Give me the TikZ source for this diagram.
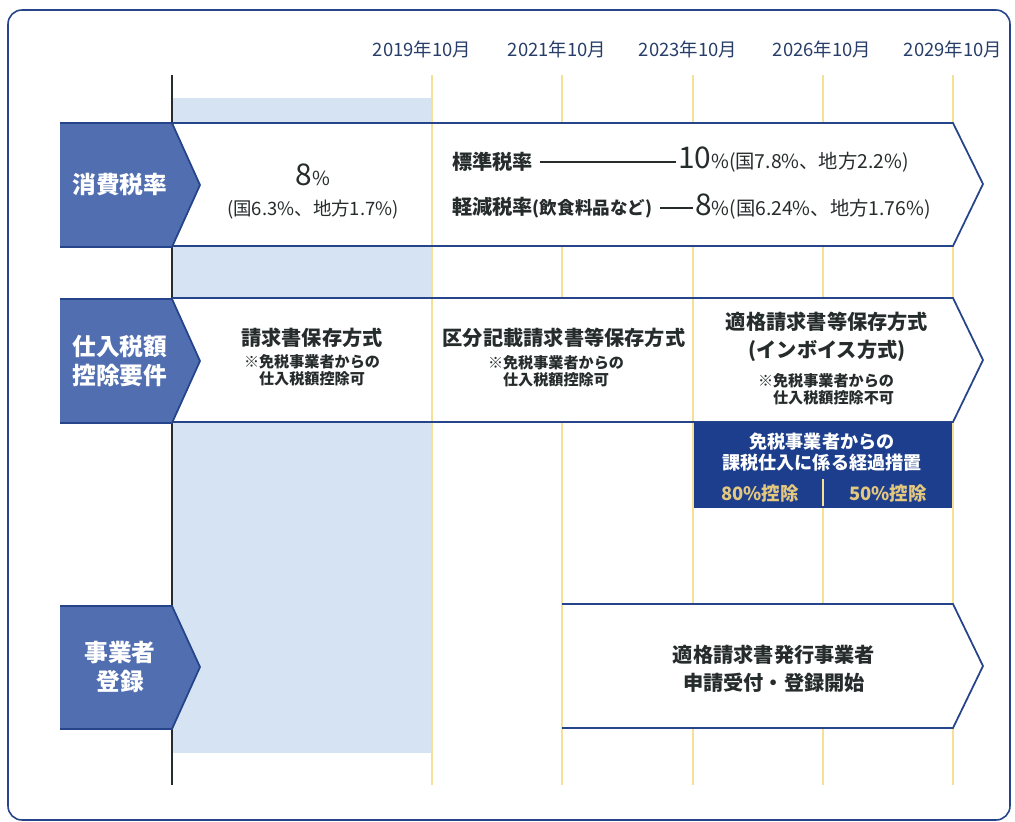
\documentclass[tikz,border=0pt]{standalone}
\usepackage{fontspec}
\setmainfont{Noto Sans CJK JP}
\usetikzlibrary{positioning}

\definecolor{tagblue}{RGB}{80,110,176}
\definecolor{edgeblue}{RGB}{38,68,138}
\definecolor{boxblue}{RGB}{28,62,140}
\definecolor{paleblue}{RGB}{214,227,242}
\definecolor{lineyellow}{RGB}{246,224,150}
\definecolor{goldtext}{RGB}{228,200,128}
\definecolor{ink}{RGB}{38,44,44}
\definecolor{dateblue}{RGB}{40,62,104}

\tikzset{
  tagfill/.style={fill=tagblue},
  tagedge/.style={draw=edgeblue, line width=1pt},
  bandedge/.style={draw=edgeblue, line width=1pt},
  yline/.style={draw=lineyellow, line width=1.1pt},
  datelbl/.style={text=dateblue, font=\fontsize{10.5}{12}\selectfont},
  taglbl/.style={text=white, font=\fontsize{13.5}{17}\selectfont\bfseries, align=center},
  title/.style={text=ink, font=\fontsize{11.5}{16}\selectfont\bfseries, align=center},
  note/.style={text=ink, font=\fontsize{8.6}{9.6}\selectfont\bfseries, align=center},
  rate/.style={text=ink, font=\fontsize{10.5}{12}\selectfont, inner sep=1pt},
  boxtxt/.style={text=white, font=\fontsize{10.3}{12}\selectfont\bfseries, align=center},
  goldtxt/.style={text=goldtext, font=\fontsize{10.5}{12}\selectfont\bfseries}
}

\begin{document}
\begin{tikzpicture}[x=0.02cm, y=-0.02cm]
  \useasboundingbox (0,0) rectangle (1015,822);
  % frame
  \draw[edgeblue, line width=0.9pt, rounded corners=8pt] (8,10) rectangle (1010,820);

  % years
  \node[datelbl] (d2019) at (422,49) {2019年10月};
  \node[datelbl] (d2021) at (557,49) {2021年10月};
  \node[datelbl] (d2023) at (688,49) {2023年10月};
  \node[datelbl] (d2026) at (822,49) {2026年10月};
  \node[datelbl] (d2029) at (953,49) {2029年10月};

  % background period and time lines
  \fill[paleblue] (172,98) rectangle (432,753);
  \draw[yline] (432,75) -- (432,785);
  \draw[yline] (562,75) -- (562,785);
  \draw[yline] (693,75) -- (693,785);
  \draw[yline] (823,75) -- (823,785);
  \draw[yline] (953,75) -- (953,785);
  \draw[ink, line width=1pt] (172,75) -- (172,785);

  % row 1
  \fill[white] (172,123) -- (953,123) -- (983,184) -- (953,246) -- (172,246) -- cycle;
  \draw[bandedge] (172,123) -- (953,123) -- (983,184) -- (953,246) -- (172,246);
  \draw[yline] (432,124) -- (432,245);
  \fill[tagfill] (60,123) -- (172,123) -- (200,185) -- (172,247) -- (60,247) -- cycle;
  \draw[tagedge] (60,123) -- (172,123) -- (200,185) -- (172,247) -- (60,247);
  \node[taglbl] (tax) at (120,185) {消費税率};

  \node[text=ink, font=\fontsize{17}{18}\selectfont] (old) at (313,175) {8{\fontsize{11}{12}\selectfont\%}};
  \node[rate] (oldsub) at (313,210) {(国6.3\%、地方1.7\%)};

  \node[rate, anchor=west, font=\fontsize{11.5}{12}\selectfont\bfseries] (std) at (450,162) {標準税率};
  \node[rate, anchor=west, font=\fontsize{11}{12}\selectfont] (stdval) at (676,160) {{\fontsize{17}{17}\selectfont 10}\%(国7.8\%、地方2.2\%)};
  \draw[ink, line width=0.6pt, shorten <=3pt] (std.east) -- (std.east -| stdval.west);

  \node[rate, anchor=west, font=\bfseries] (red) at (450,208) {{\fontsize{11.5}{12}\selectfont 軽減税率}{\fontsize{10}{10}\selectfont (飲食料品など)}};
  \node[rate, anchor=west, font=\fontsize{11}{12}\selectfont] (redval) at (693,207) {{\fontsize{17}{17}\selectfont 8}\%(国6.24\%、地方1.76\%)};
  \draw[ink, line width=0.6pt, shorten <=3pt] (red.east) -- (red.east -| redval.west);

  % row 2
  \fill[white] (172,298) -- (953,298) -- (983,360) -- (953,422) -- (172,422) -- cycle;
  \draw[bandedge] (172,298) -- (953,298) -- (983,360) -- (953,422) -- (172,422);
  \draw[yline] (432,299) -- (432,421);
  \draw[yline] (693,299) -- (693,421);
  \fill[tagfill] (60,299) -- (172,299) -- (200,361) -- (172,423) -- (60,423) -- cycle;
  \draw[tagedge] (60,299) -- (172,299) -- (200,361) -- (172,423) -- (60,423);
  \node[taglbl] (credit) at (120,361) {仕入税額\\控除要件};

  \node[title] (invold) at (312,338) {請求書保存方式};
  \node[note] (involdnote) at (312,370) {※免税事業者からの\\仕入税額控除可};
  \node[title] (invmid) at (564,338) {区分記載請求書等保存方式};
  \node[note] (invmidnote) at (556,371) {※免税事業者からの\\仕入税額控除可};
  \node[title] (invnew) at (827,337) {適格請求書等保存方式\\(インボイス方式)};
  \node[note] (invnewnote) at (826,389) {※免税事業者からの\\\hspace*{1em}仕入税額控除不可};

  % transition measure
  \fill[boxblue] (694,422) rectangle (952,508);
  \node[boxtxt] (trans) at (822,452) {免税事業者からの\\課税仕入に係る経過措置};
  \node[goldtxt] (p80) at (760,493) {80\%控除};
  \node[goldtxt] (p50) at (888,493) {50\%控除};
  \draw[yline] (823,479) -- (823,506);

  % row 3
  \fill[white] (562,604) -- (953,604) -- (983,666) -- (953,728) -- (562,728) -- cycle;
  \draw[bandedge] (562,604) -- (953,604) -- (983,666) -- (953,728) -- (562,728);
  \draw[yline] (562,605) -- (562,727);
  \fill[tagfill] (60,606) -- (172,606) -- (200,667) -- (172,729) -- (60,729) -- cycle;
  \draw[tagedge] (60,606) -- (172,606) -- (200,667) -- (172,729) -- (60,729);
  \node[taglbl] (reg) at (120,667) {事業者\\登録};

  \node[title] (issuer) at (774,669) {適格請求書発行事業者\\申請受付・登録開始};
\end{tikzpicture}
\end{document}
